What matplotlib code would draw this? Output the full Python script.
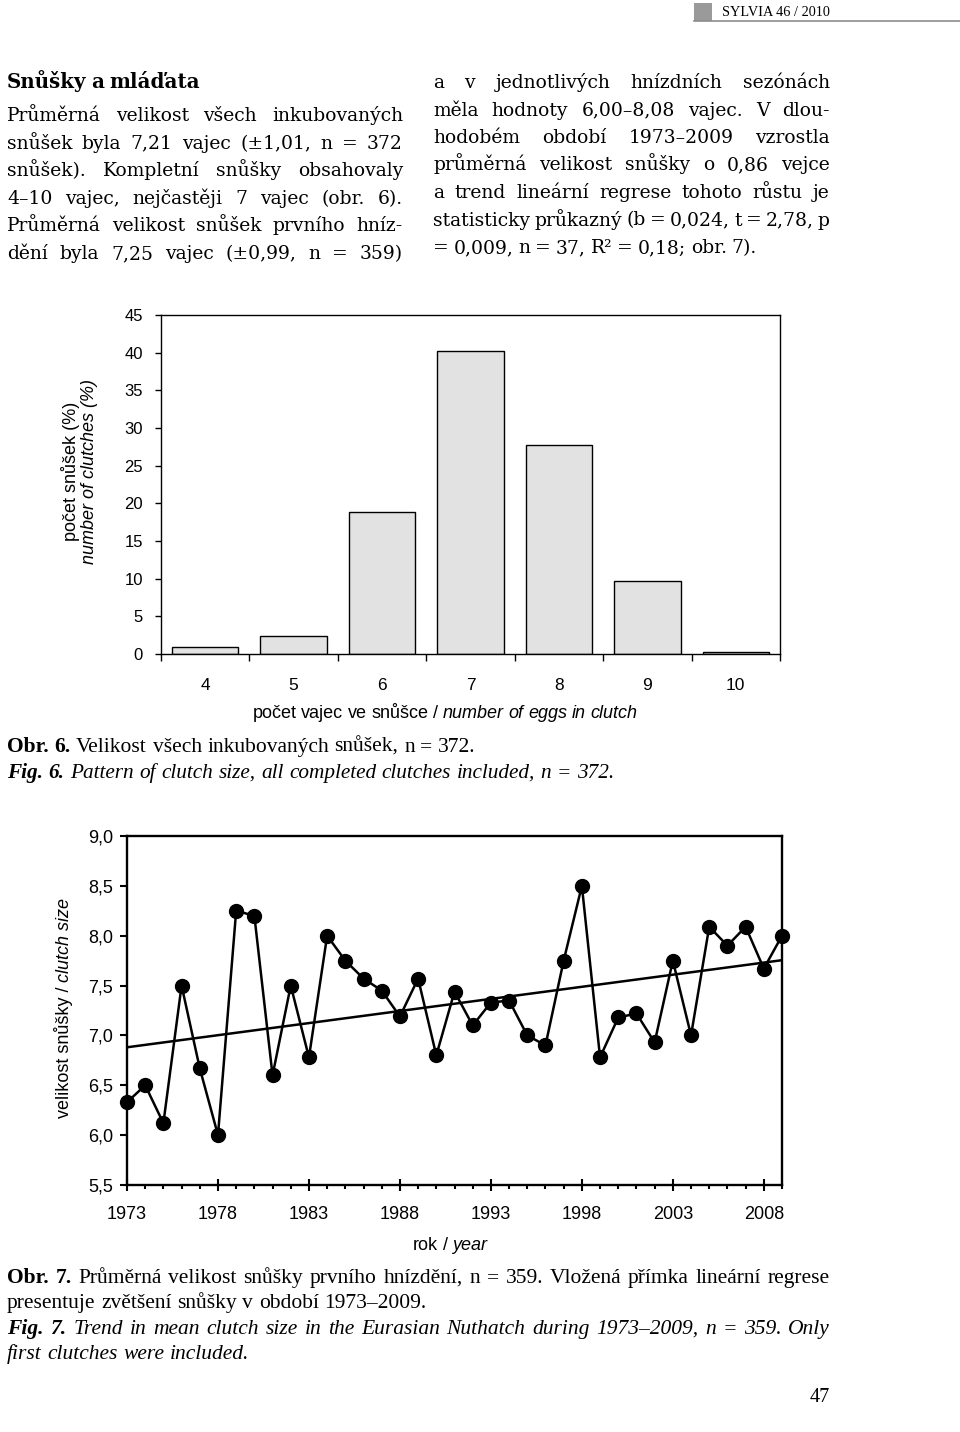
import numpy as np
import matplotlib
matplotlib.use('Agg')
import matplotlib.pyplot as plt
from matplotlib.ticker import FixedLocator, FuncFormatter
from matplotlib.patches import Rectangle

W, H = 960, 1432

# Obr. 6 - clutch size distribution
clutch_sizes = ['4', '5', '6', '7', '8', '9', '10']
clutch_pct = [0.9, 2.4, 18.8, 40.2, 27.8, 9.7, 0.3]
pct_ticks = [0, 5, 10, 15, 20, 25, 30, 35, 40, 45]

# Obr. 7 - mean clutch size per year (first clutches)
years = list(range(1973, 2010))
mean_clutch = [6.33, 6.50, 6.12, 7.50, 6.67, 6.00, 8.25, 8.20, 6.60, 7.50,
               6.78, 8.00, 7.75, 7.57, 7.45, 7.19, 7.57, 6.80, 7.44, 7.10,
               7.33, 7.35, 7.00, 6.90, 7.75, 8.50, 6.78, 7.18, 7.22, 6.93,
               7.75, 7.00, 8.09, 7.90, 8.09, 7.67, 8.00]
year_ticks = [1973, 1978, 1983, 1988, 1993, 1998, 2003, 2008]
size_ticks = [5.5, 6.0, 6.5, 7.0, 7.5, 8.0, 8.5, 9.0]

left_col = [
    "Průměrná velikost všech inkubovaných",
    "snůšek byla 7,21 vajec (±1,01, n = 372",
    "snůšek). Kompletní snůšky obsahovaly",
    "4–10 vajec, nejčastěji 7 vajec (obr. 6).",
    "Průměrná velikost snůšek prvního hníz-",
    "dění byla 7,25 vajec (±0,99, n = 359)",
]
right_col = [
    "a v jednotlivých hnízdních sezónách",
    "měla hodnoty 6,00–8,08 vajec. V dlou-",
    "hodobém období 1973–2009 vzrostla",
    "průměrná velikost snůšky o 0,86 vejce",
    "a trend lineární regrese tohoto růstu je",
    "statisticky průkazný (b = 0,024, t = 2,78, p",
    "= 0,009, n = 37, R² = 0,18; obr. 7).",
]

BODY = 'DejaVu Serif'
CAPT = 'Liberation Serif'
SANS = 'Liberation Sans'

fig = plt.figure(figsize=(W / 100, H / 100), dpi=100)
renderer = fig.canvas.get_renderer()


def fx(x):
    return x / W


def fy(y):
    return 1 - y / H


def put_line(segs, x0, base, x1=None, size=14.5, family=CAPT, center=None, gap_em=0.26):
    # segs: list of (text, style) with style containing 'b' and/or 'i'
    items = []
    for txt, st in segs:
        for w in txt.split():
            t = fig.text(0, fy(base), w, fontsize=size, family=family,
                         fontweight='bold' if 'b' in st else 'normal',
                         fontstyle='italic' if 'i' in st else 'normal',
                         va='baseline', ha='left')
            items.append(t)
    widths = [t.get_window_extent(renderer).width for t in items]
    gap = size * gap_em * 100 / 72
    if x1 is not None and len(items) > 1:
        gap = (x1 - x0 - sum(widths)) / (len(items) - 1)
    total = sum(widths) + gap * (len(items) - 1)
    if center is not None:
        x0 = center - total / 2
    x = x0
    for t, w in zip(items, widths):
        t.set_x(fx(x))
        x += w + gap


# header
fig.patches.append(Rectangle((fx(694), fy(21)), 18 / W, 18 / H, transform=fig.transFigure,
                             facecolor='#9a9a9a', edgecolor='none'))
fig.add_artist(plt.Line2D([fx(694), 1], [fy(21), fy(21)], transform=fig.transFigure,
                          color='#8c8c8c', lw=1.2))
fig.text(fx(722), fy(16), "SYLVIA 46 / 2010", fontsize=10.3, family=CAPT,
         va='baseline', ha='left')

# text columns
put_line([("Snůšky a mláďata", 'b')], 7, 88, size=14.3, family=BODY)
for i, line in enumerate(left_col):
    put_line([(line, '')], 7, 121 + i * 27.6, x1=403, size=13.5, family=BODY)
for i, line in enumerate(right_col):
    last = i == len(right_col) - 1
    put_line([(line, '')], 433, 88 + i * 27.5, x1=None if last else 830, size=13.5, family=BODY)

# ---- Obr. 6 ----
ax1 = fig.add_axes([fx(161), fy(654), (780 - 161) / W, (654 - 315) / H])
xpos = np.arange(len(clutch_sizes))
ax1.bar(xpos, clutch_pct, width=0.75, color='#e2e2e2', edgecolor='black', linewidth=1.0)
ax1.set_xlim(-0.5, len(clutch_sizes) - 0.5)
ax1.set_ylim(0, 45)
ax1.set_yticks(pct_ticks)
ax1.tick_params(axis='y', direction='out', length=4, width=1, labelsize=12, pad=9)
ax1.xaxis.set_major_locator(FixedLocator(np.arange(-0.5, len(clutch_sizes))))
ax1.tick_params(axis='x', which='major', direction='out', length=5, width=1, labelbottom=False)
ax1.set_xticks(xpos, minor=True)
ax1.set_xticklabels(clutch_sizes, minor=True)
ax1.tick_params(axis='x', which='minor', length=0, pad=17, labelsize=12.5)
for s in ax1.spines.values():
    s.set_linewidth(1.0)
for lab in ax1.get_xticklabels(minor=True) + ax1.get_yticklabels():
    lab.set_family(SANS)

fig.text(fx(70), fy(471), "počet snůšek (%)", rotation=90, ha='center', va='center',
         fontsize=13, family=SANS)
fig.text(fx(90), fy(471), "number of clutches (%)", rotation=90, ha='center', va='center',
         fontsize=13, family=SANS, fontstyle='italic')
put_line([("počet vajec ve snůšce /", ''), ("number of eggs in clutch", 'i')], 0, 718,
         size=13, family=SANS, center=445)

put_line([("Obr. 6.", 'b'), ("Velikost všech inkubovaných snůšek, n = 372.", '')], 7, 752, size=15.5)
put_line([("Fig. 6.", 'bi'), ("Pattern of clutch size, all completed clutches included, n = 372.", 'i')],
         7, 778, size=15.3)

# ---- Obr. 7 ----
ax2 = fig.add_axes([fx(127), fy(1185), (782 - 127) / W, (1185 - 836) / H])
ax2.plot(years, mean_clutch, color='black', lw=1.8, marker='o', ms=10, clip_on=False, zorder=3)
slope, icpt = np.polyfit(years, mean_clutch, 1)
yr = np.array([years[0], years[-1]])
ax2.plot(yr, slope * yr + icpt, color='black', lw=1.8, zorder=2)
ax2.set_xlim(years[0], years[-1])
ax2.set_ylim(size_ticks[0], size_ticks[-1])
ax2.set_xticks(year_ticks)
ax2.set_xticks(years, minor=True)
ax2.set_yticks(size_ticks)
ax2.yaxis.set_major_formatter(FuncFormatter(lambda v, p: f"{v:.1f}".replace('.', ',')))
ax2.tick_params(axis='x', which='major', direction='inout', length=8, width=1.5, labelsize=13, pad=11)
ax2.tick_params(axis='x', which='minor', direction='out', length=3, width=1.5)
ax2.tick_params(axis='y', direction='out', length=5, width=1.5, labelsize=13, pad=5)
for s in ax2.spines.values():
    s.set_linewidth(1.7)
for lab in ax2.get_xticklabels() + ax2.get_yticklabels():
    lab.set_family(SANS)

# rotated y label, regular + italic parts
yb = 1118
for txt, st in [("velikost snůšky /", ''), ("clutch size", 'i')]:
    t = fig.text(fx(69), fy(yb), txt, rotation=90, rotation_mode='anchor', ha='left',
                 va='baseline', fontsize=13, family=SANS,
                 fontstyle='italic' if st else 'normal')
    yb -= t.get_window_extent(renderer).height + 4
put_line([("rok /", ''), ("year", 'i')], 0, 1250, size=13, family=SANS, center=450)

put_line([("Obr. 7.", 'b'), ("Průměrná velikost snůšky prvního hnízdění, n = 359. Vložená přímka lineární regrese", '')],
         7, 1283, x1=830, size=15.5)
put_line([("presentuje zvětšení snůšky v období 1973–2009.", '')], 7, 1308, size=15.5)
put_line([("Fig. 7.", 'bi'), ("Trend in mean clutch size in the Eurasian Nuthatch during 1973–2009, n = 359. Only", 'i')],
         7, 1334, x1=830, size=15.5)
put_line([("first clutches were included.", 'i')], 7, 1359, size=15.5)

fig.text(fx(830), fy(1402), "47", fontsize=14.5, family=CAPT, ha='right', va='baseline')

fig.savefig('out.png', dpi=100)
